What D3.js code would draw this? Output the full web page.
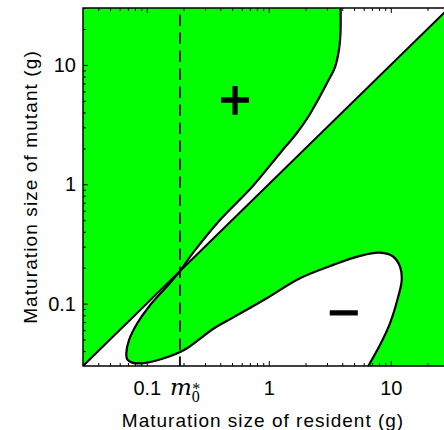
<!DOCTYPE html>
<html>
<head>
<meta charset="utf-8">
<script src="https://cdn.jsdelivr.net/npm/d3@7"></script>
<style>
  body { margin: 0; background: #fff; }
  svg text { font-family: "Liberation Sans", Arial, sans-serif; }
</style>
</head>
<body>
<svg id="chart" width="444" height="430"></svg>
<script>
// zero-fitness boundary, [resident, mutant] in g
// runs from the top edge, through the singular point, round the loop and out the bottom
const boundary = [
  [3.88, 30], [3.87, 18.5], [3.76, 13.4], [3.49, 9.6], [3.0, 7.06],
  [2.53, 5.09], [2.10, 3.66], [1.70, 2.69], [1.24, 1.83], [0.728, 0.948],
  [0.398, 0.502], [0.239, 0.266], [0.187, 0.187], [0.150, 0.143],
  [0.104, 0.0942], [0.0836, 0.0684], [0.0715, 0.0495], [0.0679, 0.0383],
  [0.0692, 0.0341], [0.0760, 0.0320], [0.0918, 0.0316], [0.138, 0.0348],
  [0.202, 0.0408], [0.356, 0.0621], [0.512, 0.0767], [0.962, 0.111],
  [1.80, 0.163], [3.38, 0.211], [5.59, 0.251], [8.15, 0.267], [10.5, 0.247],
  [11.9, 0.204], [12.3, 0.158], [11.5, 0.114], [9.85, 0.0684], [8.15, 0.045],
  [6.54, 0.03]
]
const mStar = 0.187           // singular strategy m0*
const sizeRange = [0.03, 30]  // both axes
const majorTicks = [0.1, 1, 10]
const majorLabels = ["0.1", "1", "10"]
const minorTicks = [0.04, 0.05, 0.06, 0.07, 0.08, 0.09,
                    0.2, 0.3, 0.4, 0.5, 0.6, 0.7, 0.8, 0.9,
                    2, 3, 4, 5, 6, 7, 8, 9, 20, 30]
const signLabels = [
  { text: "+", at: [0.53, 5.2] },
  { text: "\u2212", at: [4.1, 0.086] }
]

const svg = d3.select("#chart")
const pLeft = 83, pRight = 449, pTop = 8, pBottom = 366

const x = d3.scaleLog().domain(sizeRange).range([pLeft, pRight])
const y = d3.scaleLog().domain(sizeRange).range([pBottom, pTop])

svg.append("clipPath").attr("id", "plotClip")
  .append("rect")
  .attr("x", pLeft).attr("y", pTop)
  .attr("width", pRight - pLeft).attr("height", pBottom - pTop)

const plot = svg.append("g").attr("clip-path", "url(#plotClip)")

// green = positive invasion fitness
plot.append("rect")
  .attr("x", pLeft).attr("y", pTop)
  .attr("width", pRight - pLeft).attr("height", pBottom - pTop)
  .attr("fill", "#00ff00")

const line = d3.line()
  .x(d => x(d[0]))
  .y(d => y(d[1]))
  .curve(d3.curveCatmullRom.alpha(0.5))

const lo = sizeRange[0] / 1.5, hi = sizeRange[1] * 1.5

// region to the right of the boundary
const rightOfBoundary = line(boundary) +
  `L${x(hi)},${y(sizeRange[0])}L${x(hi)},${y(hi)}L${x(boundary[0][0])},${y(hi)}Z`
// region under the diagonal
const underDiagonal = `M${x(lo)},${y(lo)}L${x(hi)},${y(hi)}L${x(hi)},${y(lo)}Z`

// white where exactly one of the two holds (negative fitness)
plot.append("path")
  .attr("d", rightOfBoundary + underDiagonal)
  .attr("fill", "#fff")
  .attr("fill-rule", "evenodd")

plot.append("path")
  .attr("d", line(boundary))
  .attr("fill", "none")
  .attr("stroke", "#000")
  .attr("stroke-width", 2.2)

plot.append("line")
  .attr("x1", x(lo)).attr("y1", y(lo))
  .attr("x2", x(hi)).attr("y2", y(hi))
  .attr("stroke", "#000")
  .attr("stroke-width", 2)

plot.append("line")
  .attr("x1", x(mStar)).attr("x2", x(mStar))
  .attr("y1", pBottom).attr("y2", pTop)
  .attr("stroke", "#000")
  .attr("stroke-width", 1.8)
  .attr("stroke-dasharray", "11.5,6.5")
  .attr("stroke-dashoffset", 2)

// thickened with a thin stroke, the signs in the figure are heavier than regular
plot.selectAll(".sign")
  .data(signLabels)
  .join("text")
  .attr("class", "sign")
  .attr("x", d => x(d.at[0]))
  .attr("y", d => y(d.at[1]))
  .attr("dy", "0.36em")
  .attr("text-anchor", "middle")
  .attr("stroke", "#000")
  .attr("stroke-width", 1.3)
  .style("font-size", "55px")
  .text(d => d.text)

// axes, ticks pointing inward
function styleAxis(g) {
  g.select(".domain").remove()
  g.selectAll("line").attr("stroke", "#000").attr("stroke-width", 1)
  g.selectAll("text")
    .attr("fill", "#000")
    .style("font-family", "'Liberation Sans', Arial, sans-serif")
    .style("font-size", "20px")
}

const fmt = (d, i) => majorLabels[i]

svg.append("g").attr("transform", `translate(0,${pBottom})`)
  .call(d3.axisBottom(x).tickValues(majorTicks).tickFormat(fmt).tickSizeInner(-5).tickSizeOuter(0).tickPadding(15))
  .call(styleAxis)
svg.append("g").attr("transform", `translate(0,${pBottom})`)
  .call(d3.axisBottom(x).tickValues(minorTicks).tickFormat("").tickSizeInner(-3).tickSizeOuter(0))
  .call(styleAxis)
svg.append("g").attr("transform", `translate(0,${pTop})`)
  .call(d3.axisTop(x).tickValues(majorTicks).tickFormat("").tickSizeInner(-5).tickSizeOuter(0))
  .call(styleAxis)
svg.append("g").attr("transform", `translate(0,${pTop})`)
  .call(d3.axisTop(x).tickValues(minorTicks).tickFormat("").tickSizeInner(-3).tickSizeOuter(0))
  .call(styleAxis)
svg.append("g").attr("transform", `translate(${pLeft},0)`)
  .call(d3.axisLeft(y).tickValues(majorTicks).tickFormat(fmt).tickSizeInner(-5).tickSizeOuter(0).tickPadding(7))
  .call(styleAxis)
svg.append("g").attr("transform", `translate(${pLeft},0)`)
  .call(d3.axisLeft(y).tickValues(minorTicks).tickFormat("").tickSizeInner(-3).tickSizeOuter(0))
  .call(styleAxis)

svg.append("rect")
  .attr("x", pLeft).attr("y", pTop)
  .attr("width", pRight - pLeft).attr("height", pBottom - pTop)
  .attr("fill", "none")
  .attr("stroke", "#000")
  .attr("stroke-width", 1.5)

// m0* label under the dashed line, one text with sub/superscript tspans
const mLabel = svg.append("text")
  .attr("x", x(mStar) - 10).attr("y", 395)
  .style("font-family", "'Liberation Serif', serif")
mLabel.append("tspan")
  .style("font-family", "'DejaVu Serif', serif")
  .style("font-style", "italic")
  .style("font-size", "23px")
  .text("m")
mLabel.append("tspan")
  .attr("dy", 6.5)
  .style("font-size", "16px")
  .text("0")
mLabel.append("tspan")
  .attr("dx", -7.5).attr("dy", -8)
  .style("font-size", "16px")
  .text("*")

// axis titles
svg.append("text")
  .attr("x", 263).attr("y", 426.5)
  .attr("text-anchor", "middle")
  .style("font-size", "19px")
  .style("letter-spacing", "1px")
  .text("Maturation size of resident (g)")

svg.append("text")
  .attr("transform", `translate(37,${(pTop + pBottom) / 2}) rotate(-90)`)
  .attr("text-anchor", "middle")
  .style("font-size", "19px")
  .style("letter-spacing", "1.1px")
  .text("Maturation size of mutant (g)")
</script>
</body>
</html>
